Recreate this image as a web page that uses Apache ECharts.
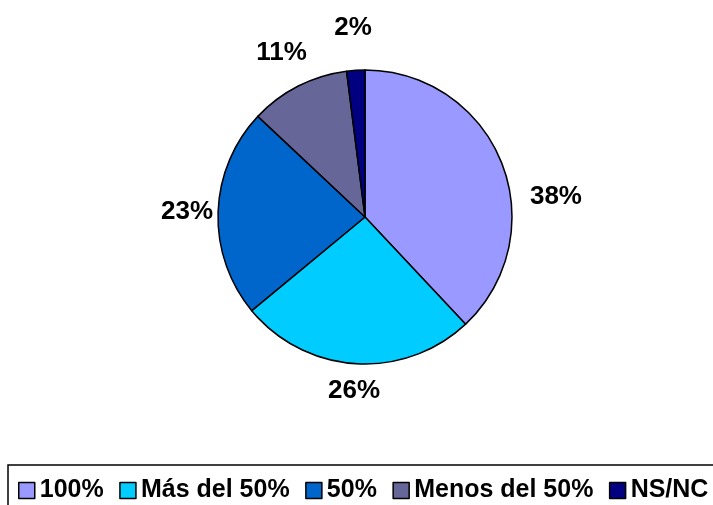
<!DOCTYPE html>
<html>
<head>
    <meta charset="utf-8">
    <title>Pie chart</title>
    <script src="https://cdn.jsdelivr.net/npm/echarts@6/dist/echarts.min.js"></script>
    <style>
        html, body { margin: 0; padding: 0; background: #fff; }
        #main { width: 713px; height: 505px; }
    </style>
</head>
<body>
    <div id="main"></div>

    <script type="text/javascript">
        // datos del grafico
        var categories = ['100%', 'Más del 50%', '50%', 'Menos del 50%', 'NS/NC'];
        var values = [38, 26, 23, 11, 2];
        var colors = ['#9999FF', '#00CCFF', '#0066CC', '#666699', '#000080'];

        // posicion de las etiquetas (distancia al centro y giro respecto al angulo medio)
        var labelDist = [192, 174, 178, 184, 190];
        var labelTurn = [15.6, 0, 0, 0, 0];

        var cx = 365, cy = 217, radius = 147;

        var total = values.reduce(function (a, b) { return a + b; }, 0);
        var midAngles = [];
        var acc = 0;
        for (var i = 0; i < values.length; i++) {
            midAngles.push((acc + values[i] / 2) / total * 360);
            acc += values[i];
        }

        var pieData = [];
        for (var i = 0; i < categories.length; i++) {
            pieData.push({ name: categories[i], value: values[i], itemStyle: { color: colors[i] } });
        }

        var myChart = echarts.init(document.getElementById('main'));

        myChart.setOption({
            animation: false,
            backgroundColor: '#fff',
            legend: {
                left: 8,
                top: 465,
                width: 740,
                orient: 'horizontal',
                padding: [13, 20, 40, 10],
                borderColor: '#000',
                borderWidth: 1.5,
                itemWidth: 16,
                itemHeight: 16,
                itemGap: 15.5,
                icon: 'rect',
                itemStyle: { borderColor: '#000', borderWidth: 1.5 },
                textStyle: {
                    fontFamily: 'Liberation Sans',
                    fontWeight: 'bold',
                    fontSize: 25,
                    color: '#000'
                },
                data: categories
            },
            series: [
                {
                    type: 'pie',
                    center: [cx, cy],
                    radius: radius,
                    startAngle: 90,
                    clockwise: true,
                    avoidLabelOverlap: false,
                    itemStyle: { borderColor: '#000', borderWidth: 1.5 },
                    emphasis: { disabled: true },
                    label: {
                        show: true,
                        position: 'outside',
                        formatter: function (p) { return p.value + '%'; },
                        fontFamily: 'Liberation Sans',
                        fontWeight: 'bold',
                        fontSize: 26,
                        color: '#000'
                    },
                    labelLine: { show: false, length: 20, length2: 0 },
                    labelLayout: function (params) {
                        var i = params.dataIndex;
                        var a = (midAngles[i] + labelTurn[i]) * Math.PI / 180;
                        return {
                            x: cx + Math.sin(a) * labelDist[i],
                            y: cy - Math.cos(a) * labelDist[i],
                            align: 'center',
                            verticalAlign: 'middle'
                        };
                    },
                    data: pieData
                }
            ]
        });
    </script>
</body>
</html>
